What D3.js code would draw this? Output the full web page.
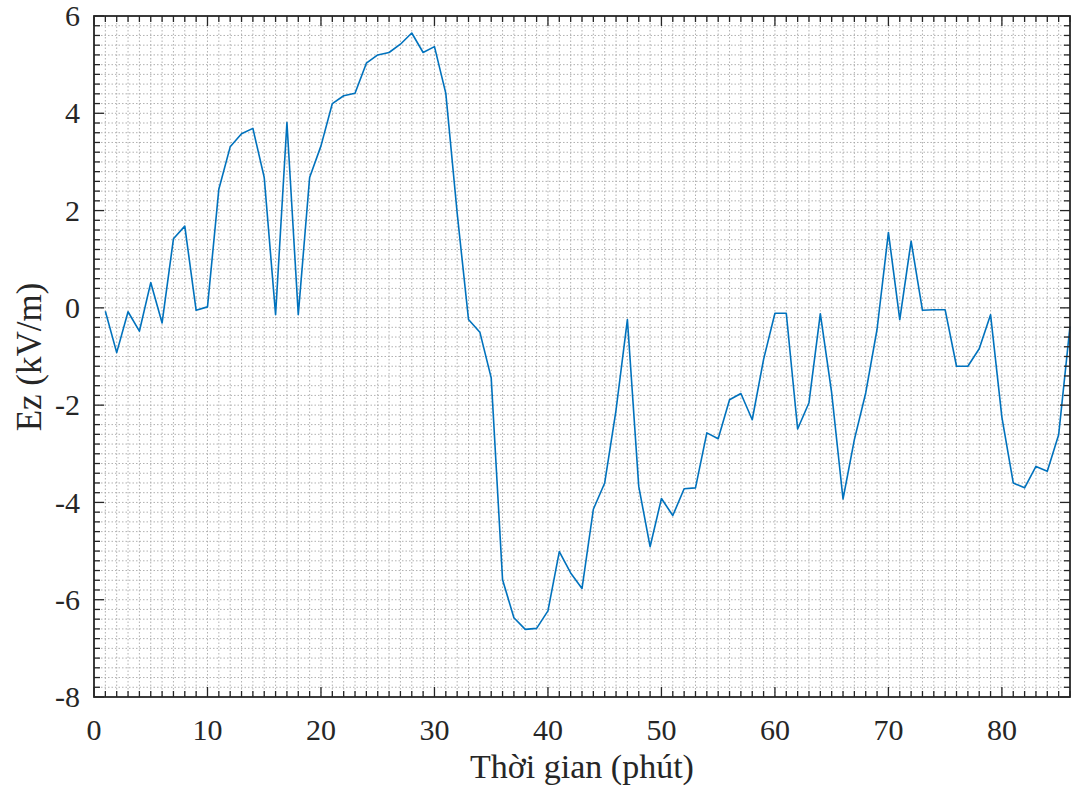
<!DOCTYPE html>
<html>
<head>
<meta charset="utf-8">
<script src="https://cdn.jsdelivr.net/npm/d3@7"></script>
<style>
  body { margin: 0; background: #fff; }
  .lbl { font-family: "Liberation Serif", "Times New Roman", serif; fill: #262626; }
</style>
</head>
<body>
<svg id="chart" width="1076" height="793"></svg>
<script>
// time in minutes
var minutes = d3.range(1, 87);
// Ez values (kV/m)
var ezValues = [
    -0.07, -0.92, -0.08, -0.48, 0.52, -0.31, 1.42, 1.68, -0.05, 0.02,
    2.44, 3.31, 3.58, 3.69, 2.68, -0.14, 3.81, -0.14, 2.68, 3.33,
    4.20, 4.36, 4.41, 5.03, 5.20, 5.25, 5.42, 5.65, 5.25, 5.37,
    4.41, 1.95, -0.24, -0.50, -1.44, -5.59, -6.37, -6.61, -6.59, -6.23,
    -5.01, -5.45, -5.77, -4.14, -3.60, -2.10, -0.24, -3.67, -4.91, -3.92,
    -4.27, -3.72, -3.70, -2.57, -2.69, -1.89, -1.76, -2.30, -1.06, -0.11,
    -0.11, -2.49, -1.95, -0.12, -1.75, -3.93, -2.71, -1.75, -0.44, 1.55,
    -0.24, 1.37, -0.05, -0.04, -0.04, -1.20, -1.20, -0.84, -0.14, -2.25,
    -3.60, -3.70, -3.26, -3.36, -2.61, -0.38
];
var xTickValues = [0, 10, 20, 30, 40, 50, 60, 70, 80];
var yTickValues = [-8, -6, -4, -2, 0, 2, 4, 6];

var svg = d3.select("#chart"),
    margin = { top: 16, right: 6, bottom: 96, left: 94 },
    width = +svg.attr("width") - margin.left - margin.right,
    height = +svg.attr("height") - margin.top - margin.bottom,
    g = svg.append("g").attr("transform", "translate(" + margin.left + "," + margin.top + ")");

var x = d3.scaleLinear().domain([0, 86]).range([0, width]);
var y = d3.scaleLinear().domain([-8, 6]).range([height, 0]);

var xMinor = d3.range(0, 87, 1);
var yMinor = d3.range(-8, 6.001, 0.2).map(function (v) { return +v.toFixed(1); });

// minor grid (dotted)
var grid = g.append("g").attr("class", "grid");
grid.selectAll("line.vx")
    .data(xMinor.filter(function (d) { return d > 0 && d < 86; }))
  .enter().append("line")
    .attr("x1", function (d) { return x(d); })
    .attr("x2", function (d) { return x(d); })
    .attr("y1", 0).attr("y2", height)
    .attr("stroke", "#a8a8a8").attr("stroke-width", 0.9)
    .attr("stroke-dasharray", "1.5,2");
grid.selectAll("line.hy")
    .data(yMinor.filter(function (d) { return d > -8 && d < 6; }))
  .enter().append("line")
    .attr("y1", function (d) { return y(d); })
    .attr("y2", function (d) { return y(d); })
    .attr("x1", 0).attr("x2", width)
    .attr("stroke", "#a8a8a8").attr("stroke-width", 0.9)
    .attr("stroke-dasharray", "1.5,2");

// the data line
var line = d3.line()
    .x(function (d, i) { return x(minutes[i]); })
    .y(function (d) { return y(d); });

g.append("path")
    .datum(ezValues)
    .attr("fill", "none")
    .attr("stroke", "#0072BD")
    .attr("stroke-width", 1.6)
    .attr("stroke-linejoin", "round")
    .attr("d", line);

// ticks on all four sides, pointing inward
function tickLen(isMajor) { return isMajor ? 10 : 6; }

var ticks = g.append("g").attr("stroke", "#262626").attr("stroke-width", 1.3);
xMinor.forEach(function (d) {
    var L = tickLen(d % 10 === 0);
    ticks.append("line").attr("x1", x(d)).attr("x2", x(d)).attr("y1", height).attr("y2", height - L);
    ticks.append("line").attr("x1", x(d)).attr("x2", x(d)).attr("y1", 0).attr("y2", L);
});
yMinor.forEach(function (d) {
    var L = tickLen(Math.abs(d % 2) < 1e-6);
    ticks.append("line").attr("y1", y(d)).attr("y2", y(d)).attr("x1", 0).attr("x2", L);
    ticks.append("line").attr("y1", y(d)).attr("y2", y(d)).attr("x1", width).attr("x2", width - L);
});

// box
g.append("rect")
    .attr("x", 0).attr("y", 0)
    .attr("width", width).attr("height", height)
    .attr("fill", "none")
    .attr("stroke", "#262626")
    .attr("stroke-width", 1.8);

// tick labels
g.append("g").selectAll("text")
    .data(xTickValues)
  .enter().append("text")
    .attr("class", "lbl")
    .attr("x", function (d) { return x(d); })
    .attr("y", height + 43)
    .attr("text-anchor", "middle")
    .attr("font-size", 30)
    .text(function (d) { return d; });

g.append("g").selectAll("text")
    .data(yTickValues)
  .enter().append("text")
    .attr("class", "lbl")
    .attr("x", -14)
    .attr("y", function (d) { return y(d); })
    .attr("dy", "0.34em")
    .attr("text-anchor", "end")
    .attr("font-size", 30)
    .text(function (d) { return d; });

// axis titles
svg.append("text")
    .attr("class", "lbl")
    .attr("x", margin.left + width / 2)
    .attr("y", 778)
    .attr("text-anchor", "middle")
    .attr("font-size", 34)
    .text("Thời gian (phút)");

svg.append("text")
    .attr("class", "lbl")
    .attr("transform", "translate(41," + 357 + ") rotate(-90)")
    .attr("text-anchor", "middle")
    .attr("font-size", 35)
    .text("Ez (kV/m)");
</script>
</body>
</html>
